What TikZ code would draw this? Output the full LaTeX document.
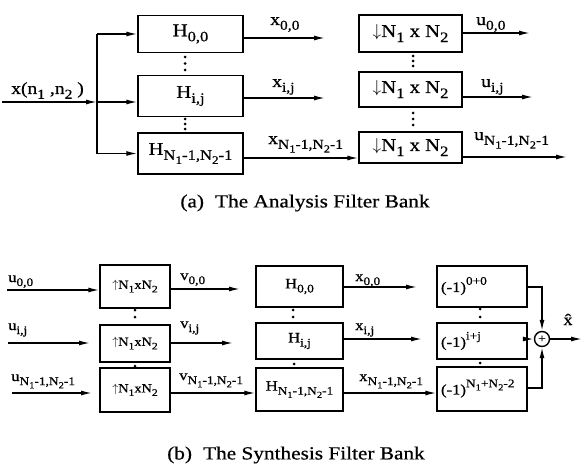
\documentclass[tikz,border=0pt]{standalone}
\usepackage{fontspec}
\setmainfont{Liberation Serif}[FakeStretch=1.15,FakeBold=0.6]
\usetikzlibrary{arrows.meta}
\newcommand\lo[1]{\raisebox{-0.28em}{\scalebox{0.8}{#1}}}
\newcommand\hi[1]{\raisebox{0.5em}{\scalebox{0.8}{#1}}}
\begin{document}
\begin{tikzpicture}[x=1pt,y=-1pt,
  box/.style={draw,line width=1.4pt,inner sep=0pt},
  abox/.style={box,minimum width=105pt,font=\fontsize{18}{18}\selectfont},
  dbox/.style={box,minimum width=103pt,font=\fontsize{18}{18}\selectfont},
  ubox/.style={box,minimum width=70pt,font=\fontsize{12.5}{12.5}\selectfont},
  sbox/.style={box,minimum width=87pt,font=\fontsize{14.5}{14.5}\selectfont},
  pbox/.style={box,minimum width=90pt,font=\fontsize{14.5}{14.5}\selectfont},
  line/.style={line width=1.4pt},
  arr/.style={line width=1.4pt,-{Latex[length=11pt,width=5pt]}},
  lab/.style={inner sep=0pt,font=\fontsize{17}{17}\selectfont},
  slab/.style={inner sep=0pt,font=\fontsize{14.5}{14.5}\selectfont},
  dot/.style={circle,fill,inner sep=0pt,minimum size=3pt},
  captext/.style={inner sep=0pt,font=\fontsize{18.5}{18.5}\selectfont}
]
\useasboundingbox (0,0) rectangle (583,468);
% ---------- analysis ----------
\node[abox,minimum height=37pt] (A1) at (190.5,34) {H\lo{0,0}};
\node[abox,minimum height=41pt] (A2) at (190.5,96) {H\lo{i,j}};
\node[abox,minimum height=41pt] (A3) at (190.5,153.5) {H\lo{N\lo{1}-1,N\lo{2}-1}};
\node[dbox,minimum height=37pt] (D1) at (410.5,33.5) {$\downarrow$N\lo{1} x N\lo{2}};
\node[dbox,minimum height=35pt] (D2) at (410.5,89.5) {$\downarrow$N\lo{1} x N\lo{2}};
\node[dbox,minimum height=31pt] (D3) at (410.5,147.5) {$\downarrow$N\lo{1} x N\lo{2}};
\coordinate (in) at (2,102);
\coordinate (br) at (97,102);
\draw[arr] (in) -- (br);
\node[lab,anchor=base west] (xin) at (11,94) {x(n\lo{1} ,n\lo{2} )};
\draw[line] (br |- A1.west) -- (br |- A3.west);
\draw[arr] (br |- A1.west) -- (A1.west);
\draw[arr] (br) -- (br -| A2.west);
\draw[arr] (br |- A3.west) -- (A3.west);
\coordinate (e1) at (325,38);
\coordinate (e2) at (325,98);
\draw[arr] (A1.east |- e1) -- (e1);
\draw[arr] (A2.east |- e2) -- (e2);
\draw[arr] (A3.east |- 0,158) -- (D3.west |- 0,158);
\node[lab,anchor=base west] (x1) at (270,25) {x\lo{0,0}};
\node[lab,anchor=base west] (x2) at (272,87) {x\lo{i,j}};
\node[lab,anchor=base west] (x3) at (268,144) {x\lo{N\lo{1}-1,N\lo{2}-1}};
\coordinate (o1) at (530,33);
\coordinate (o2) at (533,97);
\coordinate (o3) at (567,157);
\draw[arr] (D1.east |- o1) -- (o1);
\draw[arr] (D2.east |- o2) -- (o2);
\draw[arr] (D3.east |- o3) -- (o3);
\node[lab,anchor=base west] (u1) at (476,25) {u\lo{0,0}};
\node[lab,anchor=base west] (u2) at (481,87) {u\lo{i,j}};
\node[lab,anchor=base west] (u3) at (474,140) {u\lo{N\lo{1}-1,N\lo{2}-1}};
\foreach \y in {57,63.5,70} \node[dot] at (185,\y) {};
\foreach \y in {119,124,129} \node[dot] at (185,\y) {};
\foreach \y in {56,61,66} \node[dot] at (413,\y) {};
\foreach \y in {113,119,125} \node[dot] at (413,\y) {};
\node[captext] (capa) at (305,203) {(a)\hspace{0.6em}The Analysis Filter Bank};
% ---------- synthesis ----------
\node[ubox,minimum height=43pt] (U1) at (135,286.5) {$\uparrow$N\lo{1}xN\lo{2}};
\node[ubox,minimum height=37pt] (U2) at (135,343.5) {$\uparrow$N\lo{1}xN\lo{2}};
\node[ubox,minimum height=44pt] (U3) at (135,390) {$\uparrow$N\lo{1}xN\lo{2}};
\node[sbox,minimum height=41pt] (S1) at (299.5,286.5) {H\lo{0,0}};
\node[sbox,minimum height=36pt] (S2) at (299.5,341) {H\lo{i,j}};
\node[sbox,minimum height=43pt] (S3) at (299.5,389.5) {H\lo{N\lo{1}-1,N\lo{2}-1}};
\node[pbox,minimum height=41pt,text width=82pt,align=left,text depth=4pt] (P1) at (482,286.5) {(-1)\hi{0+0}};
\node[pbox,minimum height=36pt,text width=82pt,align=left] (P2) at (482,341) {(-1)\hi{i+j}};
\node[pbox,minimum height=44pt,text width=82pt,align=left,text depth=4pt] (P3) at (482,389) {(-1)\hi{N\lo{1}+N\lo{2}-2}};
\coordinate (i1) at (7,290);
\coordinate (i2) at (8,343);
\coordinate (i3) at (12,393);
\draw[arr] (i1) -- (U1.west |- i1);
\draw[arr] (i2) -- (90,343);
\draw[arr] (i3) -- (92,393);
\node[slab,anchor=base west] (su1) at (8,282) {u\lo{0,0}};
\node[slab,anchor=base west] (su2) at (8,330) {u\lo{i,j}};
\node[slab,anchor=base west] (su3) at (11,381) {u\lo{N\lo{1}-1,N\lo{2}-1}};
\coordinate (v1) at (240,289);
\coordinate (v2) at (233,343);
\coordinate (v3) at (252,393);
\draw[arr] (U1.east |- v1) -- (v1);
\draw[arr] (U2.east |- v2) -- (v2);
\draw[arr] (U3.east |- v3) -- (S3.west |- v3);
\node[slab,anchor=base west] (sv1) at (180,280) {v\lo{0,0}};
\node[slab,anchor=base west] (sv2) at (180,328) {v\lo{i,j}};
\node[slab,anchor=base west] (sv3) at (179,380) {v\lo{N\lo{1}-1,N\lo{2}-1}};
\coordinate (w1) at (417,287);
\coordinate (w2) at (422,339);
\coordinate (w3) at (435,393);
\draw[arr] (S1.east |- w1) -- (w1);
\draw[arr] (S2.east |- w2) -- (w2);
\draw[arr] (S3.east |- w3) -- (P3.west |- w3);
\node[slab,anchor=base west] (sx1) at (355,281) {x\lo{0,0}};
\node[slab,anchor=base west] (sx2) at (355,330) {x\lo{i,j}};
\node[slab,anchor=base west] (sx3) at (359,381) {x\lo{N\lo{1}-1,N\lo{2}-1}};
\node[circle,draw,line width=1.4pt,minimum size=15pt,inner sep=0pt,font=\fontsize{12}{12}\selectfont] (sum) at (542,339) {+};
\draw[arr] (P1.east |- 0,287) -| (sum.north);
\draw[arr] (P3.east |- 0,388) -| (sum.south);
\draw[arr] (P2.east |- sum) -- (sum.west);
\coordinate (out) at (582,339);
\draw[arr] (sum.east) -- (out);
\node[slab,anchor=base,font=\fontsize{16}{16}\selectfont] (xh) at (568,325) {\^{x}};
\foreach \y in {310,317} \node[dot] at (135,\y) {};
\foreach \y in {366} \node[dot] at (135,\y) {};
\foreach \y in {310,317} \node[dot] at (293,\y) {};
\foreach \y in {364} \node[dot] at (294,\y) {};
\foreach \y in {309,317} \node[dot] at (480,\y) {};
\foreach \y in {363} \node[dot] at (480,\y) {};
\node[captext] (capb) at (296,455) {(b)\hspace{0.6em}The Synthesis Filter Bank};
\end{tikzpicture}
\end{document}
